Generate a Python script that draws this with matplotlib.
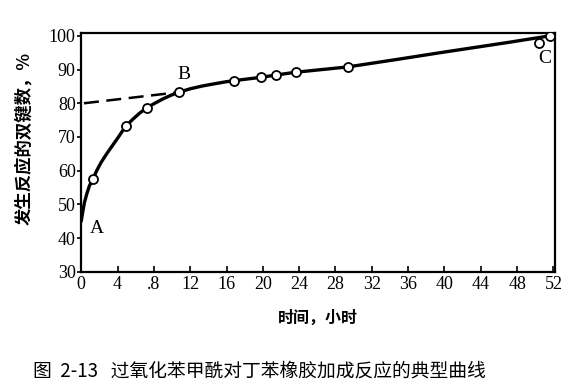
import numpy as np
import matplotlib.pyplot as plt

plt.rcParams['font.family'] = ['Liberation Serif', 'DejaVu Serif']

# measured points (hours, % double bonds reacted)
pt_t = [1.3, 4.9, 7.2, 10.8, 16.8, 19.8, 21.5, 23.6, 29.4, 50.4, 51.6]
pt_v = [57.5, 73.2, 78.6, 83.3, 86.7, 87.7, 88.5, 89.2, 90.8, 98.0, 100.0]

# hand drawn curve read along its path
curve_t = [0, 0.15, 0.35, 0.6, 0.9, 1.3, 1.7, 2.2, 2.8, 3.4, 4.1, 4.9, 5.7, 6.4, 7.2,
           8.1, 9.0, 9.9, 10.8, 12.0, 13.3, 14.7, 16.0, 16.8, 18.3, 19.8, 21.5, 23.6,
           26.5, 29.4, 35.0, 40.0, 46.9, 51.6]
curve_v = [45.0, 47.5, 50.5, 53.0, 55.5, 57.5, 60.0, 62.5, 65.0, 67.3, 70.0, 73.2, 75.3,
           77.0, 78.6, 80.0, 81.3, 82.4, 83.3, 84.3, 85.1, 85.8, 86.4, 86.7, 87.2, 87.7,
           88.4, 89.2, 90.0, 90.8, 93.1, 95.2, 98.0, 100.0]

# dashed extrapolation of the linear part
dash_t = [0.3, 10.8]
dash_v = [80.0, 83.3]

xticks = [0, 4, 8, 12, 16, 20, 24, 28, 32, 36, 40, 44, 48, 52]
xlabels = ['0', '4', '.8', '12', '16', '20', '24', '28', '32', '36', '40', '44', '48', '52']
yticks = [30, 40, 50, 60, 70, 80, 90, 100]

cjk = ['Noto Sans CJK SC', 'DejaVu Sans']

fig = plt.figure(figsize=(5.76, 3.9), dpi=100)
ax = fig.add_axes([0.141, 0.303, 0.823, 0.612])

ax.plot(curve_t, curve_v, color='k', lw=2.4, solid_capstyle='round',
        solid_joinstyle='round', zorder=2)
ax.plot(dash_t, dash_v, color='k', lw=1.8, ls=(0, (6, 3)), zorder=2)
ax.plot(pt_t, pt_v, 'o', ms=6.5, mfc='white', mec='k', mew=1.3, zorder=3)

ax.set_xlim(0, 52.2)
ax.set_ylim(30, 100.8)
ax.set_xticks(xticks)
ax.set_xticklabels(xlabels)
ax.set_yticks(yticks)
ax.set_yticklabels([str(v) for v in yticks])
ax.tick_params(axis='x', direction='in', length=4, width=1.2, pad=3, labelsize=13)
ax.tick_params(axis='y', direction='out', length=3, width=1.2, pad=1, labelsize=13)
for s in ax.spines.values():
    s.set_linewidth(1.6)

ax.text(0.9, 43, 'A', fontsize=14, ha='left', va='center')
ax.text(11.3, 88.6, 'B', fontsize=14, ha='center', va='center')
ax.text(51.0, 93.2, 'C', fontsize=14, ha='center', va='center')

ax.set_xlabel('时间，小时', family=cjk, fontsize=11.5, fontweight='bold', labelpad=12)
ax.set_ylabel('发生反应的双键数，%', family=cjk, fontsize=12.5, fontweight='bold')
ax.yaxis.set_label_coords(-0.102, 0.56)

fig.text(0.45, 0.05, '图  2-13   过氧化苯甲酰对丁苯橡胶加成反应的典型曲线',
         family=cjk, fontsize=13.5, ha='center', va='center')

fig.savefig('out.png', dpi=100)
